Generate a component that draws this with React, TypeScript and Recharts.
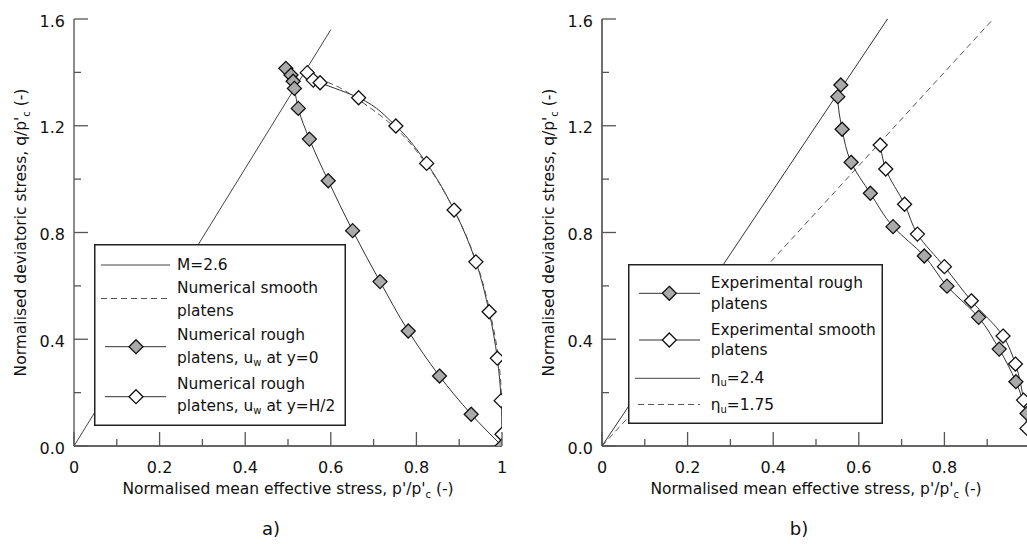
import React from 'react';
import { LineChart, Line, XAxis, YAxis, Legend } from 'recharts';

const FONT = '"DejaVu Sans", Verdana, sans-serif';

// ---- axis ticks ----
const xTicks = [0, 0.1, 0.2, 0.3, 0.4, 0.5, 0.6, 0.7, 0.8, 0.9, 1];
const xTickLabels = ['0', '0.2', '0.4', '0.6', '0.8', '1'];
const yTicks = [0, 0.2, 0.4, 0.6, 0.8, 1.0, 1.2, 1.4, 1.6];
const yTickLabels = ['0.0', '0.4', '0.8', '1.2', '1.6'];

// ---- panel a) ----
const mLine = [
  { p: 0, q: 0 },
  { p: 0.6, q: 1.56 },
];
const smoothP = [0.548, 0.614, 0.665, 0.752, 0.826, 0.891, 0.942, 0.973, 0.992, 0.999, 1.0];
const smoothQ = [1.39, 1.348, 1.297, 1.19, 1.05, 0.875, 0.68, 0.495, 0.325, 0.165, 0.0];
const roughY0P = [0.495, 0.507, 0.512, 0.515, 0.524, 0.55, 0.594, 0.651, 0.715, 0.781, 0.854, 0.928, 1.0];
const roughY0Q = [1.415, 1.39, 1.367, 1.34, 1.265, 1.15, 0.994, 0.807, 0.616, 0.431, 0.262, 0.119, 0.0];
const roughH2P = [0.545, 0.559, 0.575, 0.665, 0.752, 0.824, 0.888, 0.939, 0.97, 0.989, 0.998, 1.0];
const roughH2Q = [1.399, 1.371, 1.361, 1.305, 1.199, 1.059, 0.884, 0.69, 0.503, 0.329, 0.17, 0.044];

// ---- panel b) ----
const expRoughP = [0.558, 0.551, 0.561, 0.582, 0.627, 0.68, 0.753, 0.806, 0.88, 0.928, 0.967, 0.993];
const expRoughQ = [1.353, 1.309, 1.187, 1.063, 0.947, 0.822, 0.712, 0.599, 0.482, 0.363, 0.241, 0.122];
const expSmoothP = [0.65, 0.663, 0.707, 0.737, 0.8, 0.863, 0.937, 0.966, 0.985, 0.993];
const expSmoothQ = [1.128, 1.038, 0.906, 0.794, 0.672, 0.544, 0.412, 0.307, 0.172, 0.066];
const eta24 = [
  { p: 0, q: 0 },
  { p: 0.667, q: 1.6 },
];
const eta175 = [
  { p: 0, q: 0 },
  { p: 0.914, q: 1.6 },
];

const zipPQ = (p: number[], q: number[]) => p.map((v, i) => ({ p: v, q: q[i] }));
const smoothData = zipPQ(smoothP, smoothQ);
const roughY0Data = zipPQ(roughY0P, roughY0Q);
const roughH2Data = zipPQ(roughH2P, roughH2Q);
const expRoughData = zipPQ(expRoughP, expRoughQ);
const expSmoothData = zipPQ(expSmoothP, expSmoothQ);

const GREY = '#aaaaaa';

function diamond(fill: string) {
  return (props: any) => {
    const { cx, cy, index } = props;
    if (cx == null || cy == null) return <g key={`e${index}`} />;
    const r = 7;
    return (
      <path
        key={`d${index}`}
        d={`M${cx},${cy - r}L${cx + r},${cy}L${cx},${cy + r}L${cx - r},${cy}Z`}
        fill={fill}
        stroke="#111"
        strokeWidth={1.3}
      />
    );
  };
}

const XTick = (props: any) => {
  const { x, y, payload, maxLabelValue } = props;
  const i = xTicks.indexOf(payload.value);
  const major = i % 2 === 0;
  const showLabel = major && payload.value <= maxLabelValue;
  return (
    <g>
      <line x1={x} x2={x} y1={y} y2={y - (major ? 14 : 7)} stroke="#555" strokeWidth={1.3} />
      {showLabel && (
        <text x={x} y={y + 27.3} textAnchor="middle" fontSize={16} fill="#111" fontFamily={FONT}>
          {xTickLabels[i / 2]}
        </text>
      )}
    </g>
  );
};

const YTick = (props: any) => {
  const { x, y, payload } = props;
  const i = yTicks.indexOf(payload.value);
  const major = i % 2 === 0;
  return (
    <g>
      <line x1={x} x2={x + (major ? 14 : 7)} y1={y} y2={y} stroke="#555" strokeWidth={1.3} />
      {major && (
        <text x={x - 9} y={y + 7.6} textAnchor="end" fontSize={16} fill="#111" fontFamily={FONT}>
          {yTickLabels[i / 2]}
        </text>
      )}
    </g>
  );
};

const XTitle = (props: any) => {
  const vb = props.viewBox;
  return (
    <text x={vb.x + vb.width / 2} y={vb.y + 48.3} textAnchor="middle" fontSize={15.5} fill="#111" fontFamily={FONT}>
      <tspan>Normalised mean effective stress, p'/p'</tspan>
      <tspan fontSize={10} dy={4}>c</tspan>
      <tspan dy={-4}> (-)</tspan>
    </text>
  );
};

const YTitle = (props: any) => {
  const vb = props.viewBox;
  const cx = vb.x + 26;
  const cy = vb.y + vb.height / 2;
  return (
    <text x={cx} y={cy} transform={`rotate(-90 ${cx} ${cy})`} textAnchor="middle" fontSize={15.5} fill="#111" fontFamily={FONT}>
      <tspan>Normalised deviatoric stress, q/p'</tspan>
      <tspan fontSize={10} dy={4}>c</tspan>
      <tspan dy={-4}> (-)</tspan>
    </text>
  );
};

const LegendDiamond = ({ x, y, fill }: { x: number; y: number; fill: string }) => (
  <path d={`M${x},${y - 7}L${x + 7},${y}L${x},${y + 7}L${x - 7},${y}Z`} fill={fill} stroke="#111" strokeWidth={1.3} />
);

const Sub = ({ pre, sub, post }: { pre: string; sub: string; post: string }) => (
  <>
    <tspan>{pre}</tspan>
    <tspan fontSize={10} dy={4}>{sub}</tspan>
    <tspan dy={-4}>{post}</tspan>
  </>
);

const legendText = { fontSize: 15.4, fill: '#111', fontFamily: FONT, dominantBaseline: 'central' as const };

const LeftLegend = () => (
  <svg width={252} height={182} style={{ display: 'block' }}>
    <rect x={0.75} y={0.75} width={250.5} height={180.5} fill="#fff" stroke="#222" strokeWidth={1.5} />
    <line x1={7} x2={76} y1={21} y2={21} stroke="#444" strokeWidth={1} />
    <text x={83} y={21} {...legendText}>M=2.6</text>
    <line x1={7} x2={76} y1={54.5} y2={54.5} stroke="#555" strokeWidth={1} strokeDasharray="6 4" />
    <text x={83} y={44.3} {...legendText}>Numerical smooth</text>
    <text x={83} y={66.5} {...legendText}>platens</text>
    <line x1={11} x2={72} y1={102.7} y2={102.7} stroke="#333" strokeWidth={1} />
    <LegendDiamond x={42} y={102.7} fill={GREY} />
    <text x={83} y={91} {...legendText}>Numerical rough</text>
    <text x={83} y={114} {...legendText}><Sub pre="platens, u" sub="w" post=" at y=0" /></text>
    <line x1={11} x2={72} y1={152.7} y2={152.7} stroke="#333" strokeWidth={1} />
    <LegendDiamond x={42} y={152.7} fill="#fff" />
    <text x={83} y={140} {...legendText}>Numerical rough</text>
    <text x={83} y={161.5} {...legendText}><Sub pre="platens, u" sub="w" post=" at y=H/2" /></text>
  </svg>
);

const RightLegend = () => (
  <svg width={255} height={160} style={{ display: 'block' }}>
    <rect x={0.75} y={0.75} width={253.5} height={158.5} fill="#fff" stroke="#222" strokeWidth={1.5} />
    <line x1={11} x2={72} y1={29.3} y2={29.3} stroke="#333" strokeWidth={1} />
    <LegendDiamond x={41.3} y={29.3} fill={GREY} />
    <text x={82.7} y={19.3} {...legendText}>Experimental rough</text>
    <text x={82.7} y={40.3} {...legendText}>platens</text>
    <line x1={11} x2={72} y1={76} y2={76} stroke="#333" strokeWidth={1} />
    <LegendDiamond x={41.3} y={76} fill="#fff" />
    <text x={82.7} y={66} {...legendText}>Experimental smooth</text>
    <text x={82.7} y={86} {...legendText}>platens</text>
    <line x1={7} x2={72} y1={114.3} y2={114.3} stroke="#444" strokeWidth={1} />
    <text x={82.7} y={114.3} {...legendText}><Sub pre="η" sub="u" post="=2.4" /></text>
    <line x1={10} x2={72} y1={140.5} y2={140.5} stroke="#555" strokeWidth={1} strokeDasharray="6 4" />
    <text x={82.7} y={141} {...legendText}><Sub pre="η" sub="u" post="=1.75" /></text>
  </svg>
);

const CHART_W = 540;
const CHART_H = 544;
const MARGIN = { top: 19, right: 38, left: 0, bottom: 38 };

export default function App() {
  return (
    <div
      style={{
        position: 'fixed',
        left: 0,
        top: 0,
        width: 1027,
        height: 544,
        overflow: 'hidden',
        background: '#fff',
        fontFamily: FONT,
      }}
    >
      <div style={{ position: 'absolute', left: 0, top: 0 }}>
        <LineChart width={CHART_W} height={CHART_H} margin={MARGIN}>
          <XAxis
            dataKey="p"
            type="number"
            domain={[0, 1]}
            ticks={xTicks}
            interval={0}
            allowDataOverflow
            height={60}
            tickSize={0}
            tickMargin={0}
            tickLine={false}
            axisLine={{ stroke: '#666', strokeWidth: 2 }}
            tick={(p: any) => <XTick {...p} maxLabelValue={1} />}
            label={{ content: (p: any) => <XTitle {...p} /> }}
          />
          <YAxis
            dataKey="q"
            type="number"
            domain={[0, 1.6]}
            ticks={yTicks}
            interval={0}
            allowDataOverflow
            width={74}
            tickSize={0}
            tickMargin={0}
            tickLine={false}
            axisLine={{ stroke: '#666', strokeWidth: 1.5 }}
            tick={(p: any) => <YTick {...p} />}
            label={{ content: (p: any) => <YTitle {...p} /> }}
          />
          <Line data={roughH2Data} dataKey="q" type="monotoneY" stroke="#333" strokeWidth={1} dot={diamond('#fff')} isAnimationActive={false} />
          <Line data={smoothData} dataKey="q" type="monotoneY" stroke="#555" strokeWidth={1} strokeDasharray="6 4" dot={false} isAnimationActive={false} />
          <Line data={mLine} dataKey="q" type="linear" stroke="#444" strokeWidth={1} dot={false} isAnimationActive={false} />
          <Line data={roughY0Data} dataKey="q" type="monotoneY" stroke="#333" strokeWidth={1} dot={diamond(GREY)} isAnimationActive={false} />
          <Legend
            layout="vertical"
            align="center"
            verticalAlign="middle"
            wrapperStyle={{ position: 'absolute', left: 94, top: 244, width: 252, height: 182 }}
            content={() => <LeftLegend />}
          />
        </LineChart>
      </div>
      <div style={{ position: 'absolute', left: 528, top: 0 }}>
        <LineChart width={CHART_W} height={CHART_H} margin={MARGIN}>
          <XAxis
            dataKey="p"
            type="number"
            domain={[0, 1]}
            ticks={xTicks}
            interval={0}
            allowDataOverflow
            height={60}
            tickSize={0}
            tickMargin={0}
            tickLine={false}
            axisLine={{ stroke: '#666', strokeWidth: 2 }}
            tick={(p: any) => <XTick {...p} maxLabelValue={0.8} />}
            label={{ content: (p: any) => <XTitle {...p} /> }}
          />
          <YAxis
            dataKey="q"
            type="number"
            domain={[0, 1.6]}
            ticks={yTicks}
            interval={0}
            allowDataOverflow
            width={74}
            tickSize={0}
            tickMargin={0}
            tickLine={false}
            axisLine={{ stroke: '#222', strokeWidth: 1.3 }}
            tick={(p: any) => <YTick {...p} />}
            label={{ content: (p: any) => <YTitle {...p} /> }}
          />
          <Line data={eta24} dataKey="q" type="linear" stroke="#333" strokeWidth={1} dot={false} isAnimationActive={false} />
          <Line data={eta175} dataKey="q" type="linear" stroke="#555" strokeWidth={1} strokeDasharray="6 4" dot={false} isAnimationActive={false} />
          <Line data={expSmoothData} dataKey="q" type="monotoneY" stroke="#333" strokeWidth={1} dot={diamond('#fff')} isAnimationActive={false} />
          <Line data={expRoughData} dataKey="q" type="monotoneY" stroke="#333" strokeWidth={1} dot={diamond(GREY)} isAnimationActive={false} />
          <Legend
            layout="vertical"
            align="center"
            verticalAlign="middle"
            wrapperStyle={{ position: 'absolute', left: 100, top: 264, width: 255, height: 160 }}
            content={() => <RightLegend />}
          />
        </LineChart>
      </div>
      <svg width={1027} height={544} style={{ position: 'absolute', left: 0, top: 0, pointerEvents: 'none' }}>
        <text x={271} y={535} textAnchor="middle" fontSize={18} fill="#111" fontFamily={FONT}>a)</text>
        <text x={799} y={535} textAnchor="middle" fontSize={18} fill="#111" fontFamily={FONT}>b)</text>
      </svg>
    </div>
  );
}
